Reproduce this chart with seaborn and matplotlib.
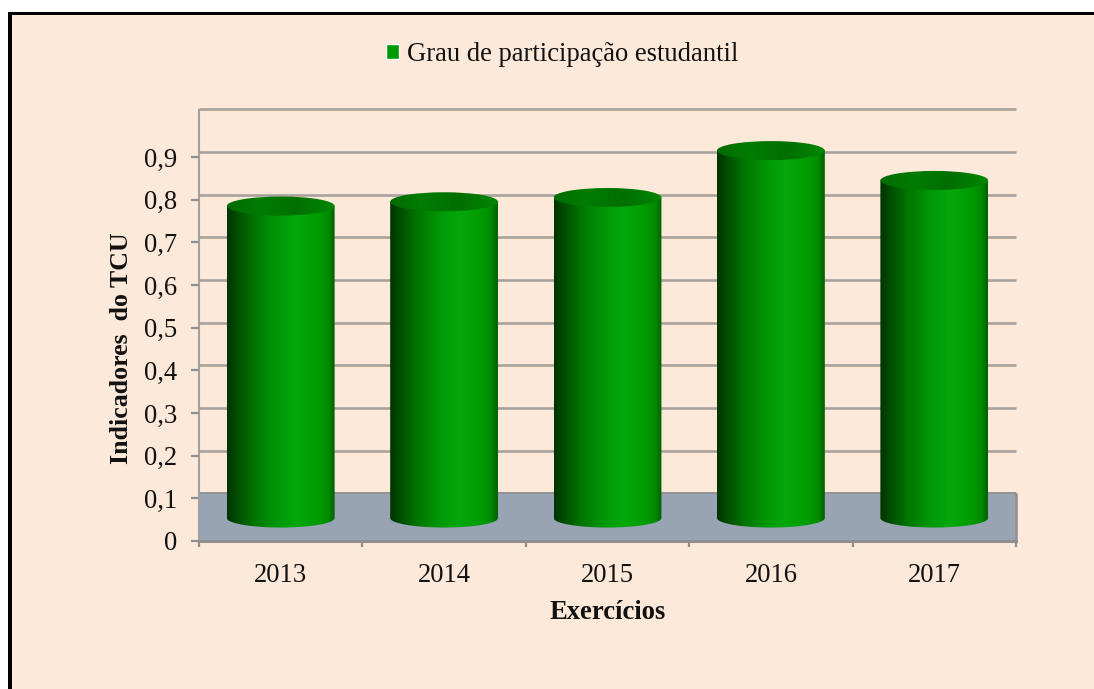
import numpy as np
import pandas as pd
import matplotlib
matplotlib.use("Agg")
import matplotlib.pyplot as plt
from matplotlib.colors import LinearSegmentedColormap
from matplotlib.patches import Ellipse, Polygon, Rectangle
from matplotlib.transforms import ScaledTranslation
import seaborn as sns

years = ["2013", "2014", "2015", "2016", "2017"]
values = [0.78, 0.79, 0.80, 0.91, 0.84]
series_name = "Grau de participação estudantil"
y_ticks = [0.0, 0.1, 0.2, 0.3, 0.4, 0.5, 0.6, 0.7, 0.8, 0.9]
y_labels = ["0", "0,1", "0,2", "0,3", "0,4", "0,5", "0,6", "0,7", "0,8", "0,9"]
x_title = "Exercícios"
y_title = "Indicadores  do TCU"

W, H, DPI = 1094, 689, 100
BG = "#FDE9D9"
GRID = "#A8A29D"
AXC = "#8F8F8F"
FS = 19.2
sns.set_theme(style="white")
plt.rcParams["font.family"] = ["Liberation Serif", "DejaVu Serif"]

fig = plt.figure(figsize=(W / DPI, H / DPI), dpi=DPI, facecolor="white")
# panel and its thick black frame (top and left only)
fig.add_artist(Rectangle((10 / W, 0), 1, 1 - 13.5 / H, transform=fig.transFigure,
                         facecolor=BG, edgecolor="none", zorder=-3))
fig.add_artist(Rectangle((8 / W, 0), 4 / W, 1 - 12 / H, transform=fig.transFigure,
                         facecolor="black", edgecolor="none", zorder=-2))
fig.add_artist(Rectangle((8 / W, 1 - 15 / H), 1, 3 / H, transform=fig.transFigure,
                         facecolor="black", edgecolor="none", zorder=-2))

ax = fig.add_axes([199 / W, 1 - 541 / H, 817 / W, 431 / H])
ax.patch.set_alpha(0)
df = pd.DataFrame({"year": years, "value": values})
base = 0.0485
sns.barplot(data=df, x="year", y="value", color="#009A00", width=0.66,
            ax=ax, label=series_name, legend=False, zorder=3,
            saturation=1, errorbar=None)
ax.set_xlim(-0.5, 4.5)
px = 1 / 426.5
ax.set_ylim(0, 431 * px)

cylinder_shift = ax.transData + ScaledTranslation(0, 2.3 / DPI, fig.dpi_scale_trans)
wall_shift = ax.transData + ScaledTranslation(0, 5 / DPI, fig.dpi_scale_trans)

# back wall gridlines and floor
ax.hlines(y_ticks[1:] + [1.0], -0.5, 4.5, color=GRID, lw=1.9, zorder=1, transform=wall_shift,
          clip_on=False)
ax.add_patch(Rectangle((-0.5, -5 * px), 5, 0.1 + 5 * px, transform=wall_shift, clip_on=False,
                       facecolor="#98A4B4", edgecolor="none", zorder=1.5))
ax.hlines([0.1], -0.5, 4.5, color=AXC, lw=1.2, zorder=1.6, transform=wall_shift)
ax.vlines([4.5], 0, 0.1117, color=AXC, lw=1.8, zorder=1.6, clip_on=False)

# cylinders: each seaborn bar is overpainted with a shaded body and an elliptical cap
cmap = LinearSegmentedColormap.from_list(
    "cyl", [(0, "#003300"), (0.08, "#004A00"), (0.25, "#007500"), (0.45, "#009606"),
            (0.64, "#04A80C"), (0.85, "#009C00"), (0.94, "#008A00"), (1, "#006000")])
cap = LinearSegmentedColormap.from_list(
    "cap", [(0, "#006A00"), (0.3, "#007C00"), (0.65, "#006F00"), (1, "#008800")])
grad = np.linspace(0, 1, 256).reshape(1, -1)
eh = 19 * px
for bar, v in zip(ax.patches[:len(values)], values):
    x0 = bar.get_x()
    w = bar.get_width()
    xc = x0 + w / 2
    bar.set_visible(False)
    t = np.linspace(np.pi, 2 * np.pi, 80)
    low = np.column_stack([xc + w / 2 * np.cos(t), base + eh / 2 * np.sin(t)])
    outline = np.vstack([[[x0, v]], low, [[x0 + w, v]]])
    clip = Polygon(outline, transform=cylinder_shift, facecolor="none", edgecolor="none")
    ax.add_patch(clip)
    im = ax.imshow(grad, cmap=cmap, extent=[x0, x0 + w, base - eh, v], aspect="auto",
                   zorder=3, transform=cylinder_shift, interpolation="bilinear")
    im.set_clip_path(clip)
    top = Ellipse((xc, v), w, eh, transform=cylinder_shift, facecolor="none",
                  edgecolor="none", clip_on=False)
    ax.add_patch(top)
    ci = ax.imshow(grad, cmap=cap, extent=[x0, x0 + w, v - eh, v + eh], aspect="auto",
                   zorder=4, transform=cylinder_shift, interpolation="bilinear", clip_on=True)
    ci.set_clip_path(top)
ax.set_xlim(-0.5, 4.5)
ax.set_ylim(0, 431 * px)

# axes
for s in ("top", "right"):
    ax.spines[s].set_visible(False)
ax.spines["left"].set_color("#A0A0A0")
ax.spines["left"].set_linewidth(1.5)
ax.spines["bottom"].set_color(AXC)
ax.spines["bottom"].set_linewidth(2.2)
ax.spines["bottom"].set_zorder(5)
ax.set_yticks(y_ticks, y_labels)
ax.set_xticks(np.arange(-0.5, 5, 1), [""] * 6)
ax.set_xticks(np.arange(5), years, minor=True)
ax.tick_params(axis="y", left=True, length=5.8, width=1.6, color=AXC, pad=10,
               labelsize=FS, labelcolor="#111111")
ax.tick_params(axis="x", which="major", bottom=True, length=4.3, width=1.6, color=AXC)
ax.tick_params(axis="x", which="minor", bottom=False, length=0, pad=15.5,
               labelsize=FS, labelcolor="#111111")
ax.set_xlabel(x_title, fontsize=FS, fontweight="bold", color="#111111")
ax.set_ylabel(y_title, fontsize=FS * 0.97, fontweight="bold", color="#111111")
ax.xaxis.set_label_coords(409 / 817, -59 / 431)
ax.yaxis.set_label_coords(-66 / 817, 192.5 / 431)

handles, labels = ax.get_legend_handles_labels()
leg = fig.legend(handles[:1], labels[:1], loc="center", bbox_to_anchor=(562 / W, 1 - 54.5 / H),
                 frameon=False, fontsize=FS, handlelength=0.5, handleheight=0.5,
                 handletextpad=0.28, labelcolor="#111111")
for h in leg.legend_handles:
    h.set_facecolor("#009A00")
    h.set_visible(True)

fig.savefig("out.png", dpi=DPI, facecolor="white")
